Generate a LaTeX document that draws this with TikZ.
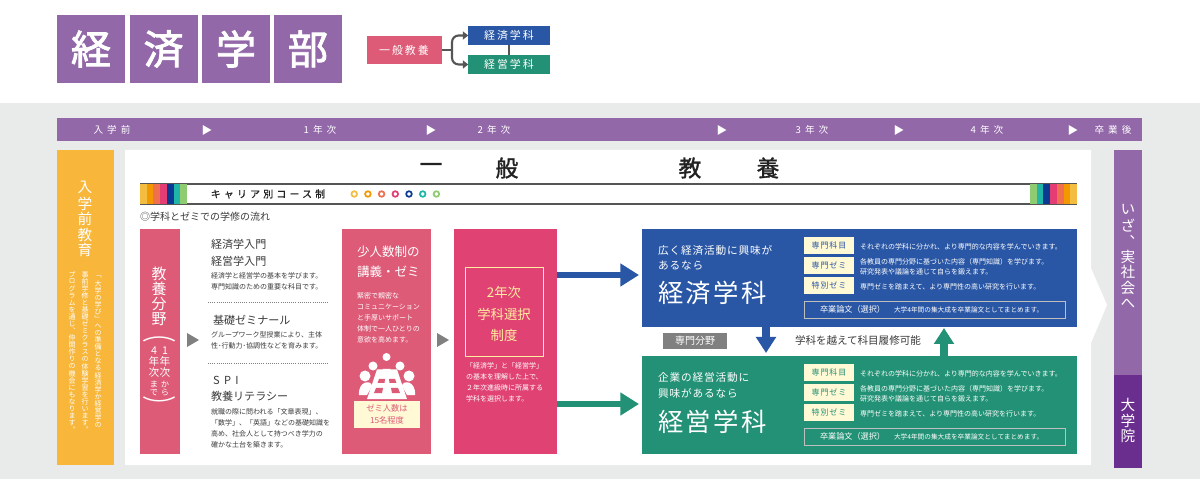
\documentclass[tikz,border=0pt]{standalone}
\usepackage{fontspec}
\usetikzlibrary{arrows.meta}
\setmainfont{Noto Sans CJK JP}
\newfontfamily\jpv[RawFeature=+vert]{Noto Sans CJK JP}
\definecolor{bggrey}{HTML}{E9EBEA}
\definecolor{murasaki}{HTML}{9268A9}
\definecolor{darkpurple}{HTML}{6A2F8E}
\definecolor{rosa}{HTML}{DD5B77}
\definecolor{magen}{HTML}{E04373}
\definecolor{aoi}{HTML}{2A57A5}
\definecolor{midori}{HTML}{229175}
\definecolor{orangebox}{HTML}{F8B73B}
\definecolor{cream}{HTML}{FFF9D6}
\definecolor{creamtext}{HTML}{FFEE9F}
\definecolor{inktext}{HTML}{3A3A3A}
\definecolor{titletext}{HTML}{222222}
\definecolor{triangrey}{HTML}{808080}
\definecolor{connect}{HTML}{555555}
\definecolor{sA}{HTML}{F3BD42}
\definecolor{sB}{HTML}{F39800}
\definecolor{sC}{HTML}{EF6F4E}
\definecolor{sD}{HTML}{E43D74}
\definecolor{sE}{HTML}{0A3A91}
\definecolor{sF}{HTML}{1FB5A8}
\definecolor{sG}{HTML}{8FCB70}
% tamano de letra en pt, interlinea en pt
\newcommand{\fs}[2]{\fontsize{#1}{#2}\selectfont}
\newcommand{\lsp}[1]{\addfontfeature{LetterSpace=#1}}
\newcommand{\fat}[1]{\addfontfeature{FakeBold=#1}}
% texto vertical, caracter por caracter
\makeatletter
\newcommand{\tatetext}[2]{\vbox{\offinterlineskip\jpv\@tfor\tatechar:=#2\do{\vbox to #1{\vss\hbox to 1em{\hss\tatechar\hss}\vss}}}}
\makeatother
\tikzstyle{pxbox}=[rectangle, inner sep=0pt, outer sep=0pt, minimum width=#1*0.75pt]
\tikzstyle{high}=[minimum height=#1*0.75pt]
\tikzstyle{lbl}=[inner sep=0pt, outer sep=0pt, text=inktext]
\tikzstyle{lead}=[lbl, anchor=west]
\tikzstyle{small}=[lbl, anchor=north west, align=left, font=\fs{5.25}{8.25}]
\tikzstyle{tate}=[lbl, anchor=north, text=white]
\tikzstyle{square}=[pxbox=68, high=68, fill=murasaki, text=white, font=\fs{30}{30}\fat{2.2}]
\tikzstyle{head}=[lbl, text=titletext, font=\fs{17}{17}\fat{1.5}]
\tikzstyle{yr}=[lbl, text=white, font=\fs{7.2}{8}\lsp{42}]
\tikzstyle{yrarrow}=[lbl, text=white, font=\fs{8}{8}]
\tikzstyle{tri}=[fill=triangrey, draw=none]
\tikzstyle{tag}=[pxbox=50, high=17, fill=cream, font=\fs{6}{8}\lsp{12}]
\tikzstyle{thesis}=[pxbox=261, high=17, draw=white!75!black, line width=0.6pt]
\tikzstyle{stripe}=[pxbox=6.75, high=20]
\tikzstyle{dot}=[circle, inner sep=0pt, outer sep=0pt, minimum size=4.2pt, fill=white, line width=1.3pt]
\tikzstyle{bigarrow}=[line width=4.5pt, -{Triangle[width=16.5pt,length=14pt]}]
\tikzstyle{midarrow}=[line width=6.5pt, -{Triangle[width=14.5pt,length=12pt]}]
\tikzstyle{conn}=[line width=1.6pt, connect]
\tikzstyle{smalltip}=[-{Triangle[width=6pt,length=4pt]}]
\tikzstyle{dots}=[triangrey, line width=0.5pt, dash pattern=on 0.6pt off 1pt]
\begin{document}
\begin{tikzpicture}[x=0.75pt, y=-0.75pt]
\useasboundingbox (0,0) rectangle (1200,495);
% fondo
\fill[bggrey] (0,103) rectangle (1200,479);

% cabecera
\node[square] (kei) at (91,49) {経};
\node[square] (sai) at (163.5,49) {済};
\node[square] (gaku) at (236,49) {学};
\node[square] (bu) at (308,49) {部};

\node[pxbox=75, high=28, fill=rosa, text=white, font=\fs{8.2}{9}\lsp{18}] (ippan) at (404,50) {一般教養};
\node[pxbox=81.5, high=19, fill=aoi, text=white, font=\fs{8.2}{9}\lsp{18}] (keizaiS) at (509,35.5) {経済学科};
\node[pxbox=81.5, high=19, fill=midori, text=white, font=\fs{8.2}{9}\lsp{18}] (keieiS) at (509,64.5) {経営学科};
\coordinate (fork) at (452,50);
\draw[conn] (ippan.east) -- (fork);
\draw[conn, rounded corners=5pt, smalltip] (fork) |- (keizaiS.west);
\draw[conn, rounded corners=5pt, smalltip] (fork) |- (keieiS.west);
\draw[conn] (keizaiS.south) -- (keieiS.north);

% barra de anos
\node[pxbox=1085, high=23, fill=murasaki] (yearbar) at (599.5,129.5) {};
\node[yr] (y0) at (112,130) {入学前};
\node[yrarrow] (a1) at (207,130) {▶};
\node[yr] (y1) at (320,130) {1年次};
\node[yrarrow] (a2) at (431,130) {▶};
\node[yr] (y2) at (494,130) {2年次};
\node[yrarrow] (a3) at (722,130) {▶};
\node[yr] (y3) at (812,130) {3年次};
\node[yrarrow] (a4) at (899,130) {▶};
\node[yr] (y4) at (987,130) {4年次};
\node[yrarrow] (a5) at (1073,130) {▶};
\node[yr] (y5) at (1113,130) {卒業後};

% panel blanco
\fill[white] (125,150) -- (1091,150) -- (1091,268) -- (1107,305) -- (1091,343) -- (1091,465) -- (125,465) -- cycle;

% columna naranja
\node[pxbox=57, high=315, fill=orangebox] (pre) at (85.5,307.5) {};
\node[tate, font=\fs{11}{11}] (preT) at (85,180) {\tatetext{11.7pt}{入学前教育}};
\node[tate, font=\fs{5.25}{5.25}] (preA) at (98,273) {\tatetext{5.3pt}{「大学の学び」への準備となる経済学か経営学の}};
\node[tate, font=\fs{5.25}{5.25}] (preB) at (85,271) {\tatetext{5.3pt}{事前学修と基礎ゼミクラスの体験学習を行います。}};
\node[tate, font=\fs{5.25}{5.25}] (preC) at (72,271) {\tatetext{5.3pt}{プログラムを通じ、仲間作りの機会にもなります。}};

% columna derecha
\node[pxbox=28, high=225, fill=murasaki] (jissha) at (1128,262.5) {};
\node[pxbox=28, high=93, fill=darkpurple] (daigakuin) at (1128,421.5) {};
\node[tate, font=\fs{11}{11}] (jisshaT) at (1128,202) {\tatetext{11.7pt}{いざ、実社会へ}};
\node[tate, font=\fs{11}{11}] (daigakuinT) at (1128,397) {\tatetext{11.7pt}{大学院}};

% titulo
\node[head] (t1) at (431,168) {一};
\node[head] (t2) at (507,168) {般};
\node[head] (t3) at (690,168) {教};
\node[head] (t4) at (768,168) {養};

% franja de carrera
\draw[connect, line width=0.8pt] (140,184) -- (1077,184);
\draw[connect, line width=0.8pt] (140,204) -- (1077,204);
\foreach \c [count=\i] in {sA,sB,sC,sD,sE,sF,sG} {
  \node[stripe, high=20, fill=\c] (sl\i) at ({136.6+\i*6.75},194) {};
  \node[stripe, high=20, fill=\c] (sr\i) at ({1080.4-\i*6.75},194) {};
  \node[dot, draw=\c] (dot\i) at ({340.5+\i*13.7},194) {};
}
\node[lbl, text=titletext, font=\fs{7.4}{8}\lsp{33}\fat{0.8}] (career) at (268,194) {キャリア別コース制};
\node[lead, font=\fs{7.5}{8}] (flow) at (140,217) {◎学科とゼミでの学修の流れ};

% columna rosa 1
\node[pxbox=40, high=225, fill=rosa] (kyoyo) at (160,341.5) {};
\node[tate, font=\fs{11.2}{11.2}] (kyoyoT) at (159,266) {\tatetext{11.4pt}{教養分野}};
\node[tate, font=\fs{15}{15}] (parA) at (159.5,335) {\scalebox{1.7}[1]{\tatetext{6pt}{（}}};
\node[tate, font=\fs{8}{8}] (cA) at (165,345) {\tatetext{8.2pt}{1年次}};
\node[tate, font=\fs{6.2}{6.2}] (cB) at (165,380) {\tatetext{6.5pt}{から}};
\node[tate, font=\fs{8}{8}] (cC) at (154,345) {\tatetext{8.2pt}{4年次}};
\node[tate, font=\fs{6.2}{6.2}] (cD) at (154,380) {\tatetext{6.5pt}{まで}};
\node[tate, font=\fs{15}{15}] (parB) at (159.5,401) {\scalebox{1.7}[1]{\tatetext{6pt}{）}}};
\fill[tri] (187,333) -- (199,340) -- (187,347) -- cycle;

% asignaturas
\node[lead, font=\fs{8.3}{9}] (n1) at (211,244) {経済学入門};
\node[lead, font=\fs{8.3}{9}] (n2) at (211,261) {経営学入門};
\node[small] (n3) at (211,273) {経済学と経営学の基本を学びます。\\専門知識のための重要な科目です。};
\draw[dots] (208,302) -- (329,302);
\node[lead, font=\fs{8.3}{9}] (n4) at (213,320) {基礎ゼミナール};
\node[small] (n5) at (211,332) {グループワーク型授業により、主体\\性･行動力･協調性などを育みます。};
\draw[dots] (208,363) -- (329,363);
\node[lead, font=\fs{8.3}{9}\lsp{40}] (n6) at (213,380) {SPI};
\node[lead, font=\fs{8.3}{9}] (n7) at (211,396) {教養リテラシー};
\node[small] (n8) at (211,409) {就職の際に問われる「文章表現」、\\「数学」、「英語」などの基礎知識を\\高め、社会人として持つべき学力の\\確かな土台を築きます。};

% columna rosa 2
\node[pxbox=89, high=225, fill=rosa] (zemi) at (386.5,341.5) {};
\node[lbl, anchor=north west, align=left, text=white, font=\fs{9.4}{15}] (zemiT) at (357,246) {少人数制の\\講義・ゼミ};
\node[small, text=white] (zemiD) at (357,293) {緊密で親密な\\コミュニケーション\\と手厚いサポート\\体制で一人ひとりの\\意欲を高めます。};
% pictograma
\fill[white] (386.5,357) circle (4);
\fill[white] (373,366) circle (4.5);
\fill[white] (400,366) circle (4.5);
\fill[white] (365,376) circle (5.5);
\fill[white] (409,376) circle (5.5);
\fill[white] (382.5,369) arc (180:0:4) -- cycle;
\fill[white] (359,395) .. controls (358,380) and (372,380) .. (372,386) -- (367,395) -- cycle;
\fill[white] (415,395) .. controls (416,380) and (402,380) .. (402,386) -- (407,395) -- cycle;
\fill[white] (377,369.5) -- (397,369.5) -- (407,399) -- (367,399) -- cycle;
\fill[rosa] (379,379) -- (385,379) -- (384.5,383) -- (377.5,383) -- cycle;
\fill[rosa] (389,379) -- (395,379) -- (396.5,383) -- (389.5,383) -- cycle;
\fill[rosa] (376,388) -- (383,388) -- (382,393) -- (374,393) -- cycle;
\fill[rosa] (391,388) -- (398,388) -- (400,393) -- (392,393) -- cycle;
\node[pxbox=66, high=27, fill=cream, text=rosa, align=center, font=\fs{6.2}{9.5}] (zemiN) at (387,414.5) {ゼミ人数は\\15名程度};
\fill[tri] (437,333) -- (449,340) -- (437,347) -- cycle;

% seleccion de carrera
\node[pxbox=103, high=225, fill=magen] (sentaku) at (505.5,341.5) {};
\node[pxbox=78, high=89, draw=creamtext, line width=0.6pt] (sentakuB) at (504,311.5) {};
\node[lbl, text=creamtext, align=center, font=\fs{10}{16}] (sentakuT) at (504,314) {2年次\\学科選択\\制度};
\node[small, text=white] (sentakuD) at (466,363) {「経済学」と「経営学」\\の基本を理解した上で、\\２年次進級時に所属する\\学科を選択します。};

% caja azul
\node[pxbox=435, high=98, fill=aoi] (keizai) at (859.5,278) {};
\node[lead, text=white, font=\fs{8}{9}\lsp{8}] (kzA) at (658,250) {広く経済活動に興味が};
\node[lead, text=white, font=\fs{8}{9}\lsp{8}] (kzB) at (658,266) {あるなら};
\node[lead, text=white, font=\fs{19}{20}\lsp{10}] (kzC) at (658,293) {経済学科};
\node[tag, text=aoi] (kzT1) at (829,245.5) {専門科目};
\node[tag, text=aoi] (kzT2) at (829,265.5) {専門ゼミ};
\node[tag, text=aoi] (kzT3) at (829,285.5) {特別ゼミ};
\node[lead, text=white, font=\fs{5.25}{6}] (kzD1) at (860,247) {それぞれの学科に分かれ、より専門的な内容を学んでいきます。};
\node[lead, text=white, align=left, font=\fs{5.25}{7.5}] (kzD2) at (860,267) {各教員の専門分野に基づいた内容（専門知識）を学びます。\\研究発表や議論を通じて自らを鍛えます。};
\node[lead, text=white, font=\fs{5.25}{6}] (kzD3) at (860,287) {専門ゼミを踏まえて、より専門性の高い研究を行います。};
\node[thesis] (kzS) at (934.5,309.5) {};
\node[lead, text=white, font=\fs{6.1}{7}] (kzS1) at (820,309.5) {卒業論文（選択）};
\node[lead, text=white, font=\fs{5}{6}] (kzS2) at (894,309.5) {大学4年間の集大成を卒業論文としてまとめます。};

% caja verde
\node[pxbox=435, high=98, fill=midori] (keiei) at (859.5,405) {};
\node[lead, text=white, font=\fs{8}{9}\lsp{8}] (kyA) at (658,377) {企業の経営活動に};
\node[lead, text=white, font=\fs{8}{9}\lsp{8}] (kyB) at (658,393) {興味があるなら};
\node[lead, text=white, font=\fs{19}{20}\lsp{10}] (kyC) at (658,422) {経営学科};
\node[tag, text=midori] (kyT1) at (829,372.5) {専門科目};
\node[tag, text=midori] (kyT2) at (829,392.5) {専門ゼミ};
\node[tag, text=midori] (kyT3) at (829,412.5) {特別ゼミ};
\node[lead, text=white, font=\fs{5.25}{6}] (kyD1) at (860,374) {それぞれの学科に分かれ、より専門的な内容を学んでいきます。};
\node[lead, text=white, align=left, font=\fs{5.25}{7.5}] (kyD2) at (860,394) {各教員の専門分野に基づいた内容（専門知識）を学びます。\\研究発表や議論を通じて自らを鍛えます。};
\node[lead, text=white, font=\fs{5.25}{6}] (kyD3) at (860,414) {専門ゼミを踏まえて、より専門性の高い研究を行います。};
\node[thesis] (kyS) at (934.5,436.5) {};
\node[lead, text=white, font=\fs{6.1}{7}] (kyS1) at (820,436.5) {卒業論文（選択）};
\node[lead, text=white, font=\fs{5}{6}] (kyS2) at (894,436.5) {大学4年間の集大成を卒業論文としてまとめます。};

% flechas
\coordinate (toBlue) at (639,275);
\coordinate (toGreen) at (639,404);
\coordinate (down) at (766,353);
\coordinate (up) at (944,328);
\draw[bigarrow, aoi] (sentaku.east |- toBlue) -- (toBlue);
\draw[bigarrow, midori] (sentaku.east |- toGreen) -- (toGreen);
\draw[midarrow, aoi] (down |- keizai.south) -- (down);
\draw[midarrow, midori] (up |- keiei.north) -- (up);

% entre cajas
\node[pxbox=64, high=16, fill=triangrey, text=white, font=\fs{7.5}{8}] (senmon) at (695,341) {専門分野};
\node[lead, font=\fs{7.9}{9}] (koete) at (795,340) {学科を越えて科目履修可能};
\end{tikzpicture}
\end{document}
